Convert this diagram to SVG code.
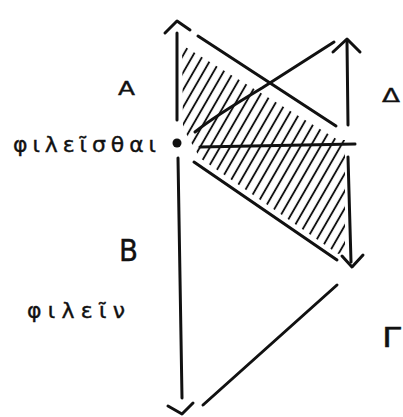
<svg xmlns="http://www.w3.org/2000/svg" width="403" height="417" viewBox="0 0 403 417">
<style>
.ln{fill:none;stroke:#111;stroke-width:3;stroke-linecap:round;stroke-linejoin:round}
.lbl{font-family:"DejaVu Sans","Liberation Sans",sans-serif;fill:#111;stroke:#111;stroke-width:0.4}
</style>
<defs>
<pattern id="hatch" patternUnits="userSpaceOnUse" width="10" height="10" patternTransform="skewX(-30)">
<line x1="5" y1="0" x2="5" y2="10" stroke="#111" stroke-width="2.2"/>
</pattern>
<clipPath id="hclip">
<polygon points="182,45 338,140 345,140 345,252 338,254 200,158 183,128"/>
</clipPath>
</defs>
<rect width="403" height="417" fill="#fff"/>
<g id="hatched-region">
<rect x="170" y="30" width="190" height="240" fill="url(#hatch)" clip-path="url(#hclip)"/>
</g>
<g id="connectors">
<line class="ln" x1="177" y1="33" x2="177" y2="120"/>
<polyline class="ln" points="165,33 177,21 190,30"/>
<line class="ln" x1="178" y1="158" x2="182" y2="398"/>
<polyline class="ln" points="168,406 182,414 193,403"/>
<line class="ln" x1="198" y1="36" x2="336" y2="126"/>
<path class="ln" d="M195,132 Q212,118 262,88 L334,42"/>
<line class="ln" x1="347" y1="42" x2="348" y2="125"/>
<polyline class="ln" points="333,52 347,39 360,52"/>
<line class="ln" x1="200" y1="147" x2="355" y2="144"/>
<line class="ln" x1="348" y1="157" x2="351" y2="262"/>
<polyline class="ln" points="342,256 352,267 363,255"/>
<line class="ln" x1="194" y1="162" x2="337" y2="260"/>
<line class="ln" x1="203" y1="405" x2="337" y2="285"/>
</g>
<g id="point">
<circle cx="177" cy="143" r="4.5" fill="#111"/>
</g>
<g id="label-A"><text class="lbl" x="118" y="95" font-size="19" textLength="17" lengthAdjust="spacingAndGlyphs">A</text></g>
<g id="label-Delta"><text class="lbl" x="382" y="102" font-size="20" textLength="18" lengthAdjust="spacingAndGlyphs">Δ</text></g>
<g id="label-B"><text class="lbl" x="119" y="261" font-size="30" textLength="19" lengthAdjust="spacingAndGlyphs">B</text></g>
<g id="label-Gamma"><text class="lbl" x="382" y="347" font-size="26" textLength="19" lengthAdjust="spacingAndGlyphs">Γ</text></g>
<g id="label-phileisthai"><text class="lbl" x="13" y="152" font-size="22" textLength="143" lengthAdjust="spacing">φιλεῖσθαι</text></g>
<g id="label-philein"><text class="lbl" x="27" y="318" font-size="22" textLength="98" lengthAdjust="spacing">φιλεῖν</text></g>
</svg>
